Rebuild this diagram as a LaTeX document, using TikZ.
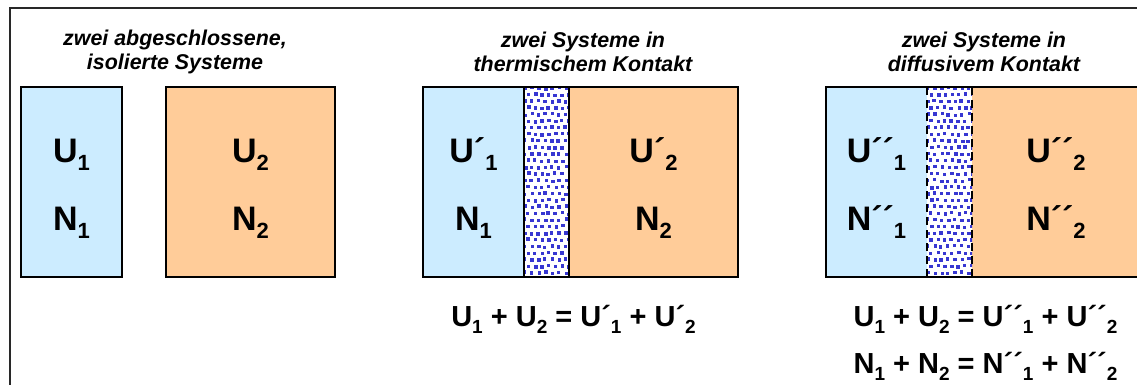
\documentclass[tikz,border=0pt]{standalone}
\usepackage{fontspec}
\setmainfont{Liberation Sans}
\definecolor{boxblue}{RGB}{204,236,255}
\definecolor{boxorange}{RGB}{255,204,153}
\definecolor{dotblue}{RGB}{55,55,210}
\definecolor{framegray}{RGB}{40,40,40}
\newcommand\bigsub[1]{\raisebox{-8pt}{\fontsize{22}{22}\selectfont #1}}
\newcommand\eqsub[1]{\raisebox{-7pt}{\fontsize{19}{19}\selectfont #1}}
\newcommand\sepdots[2]{%
  \begin{scope}
    \clip (#1,87) rectangle (#2,277);
    \fill[white] (#1,87) rectangle (#2,277);
    \foreach \j in {0,...,30}{
      \foreach \i in {0,...,7}{
        \pgfmathsetmacro\xx{#1+1+\i*6.8+mod(\j,2)*3.4+rand*0.9}
        \pgfmathsetmacro\yy{88+\j*6.6+rand*0.9}
        \fill[dotblue] (\xx-1.7,\yy-1.7) rectangle ++(3.4,3.4);
      }}
  \end{scope}}
\tikzset{
  boxline/.style={draw=black,line width=2.6pt},
  sepline/.style={black,line width=2.6pt},
  sepdash/.style={black,line width=2.6pt,dash pattern=on 8pt off 5pt},
  title/.style={align=center,inner sep=0pt,font=\fontsize{21.4}{24}\selectfont\bfseries\itshape},
  biglbl/.style={anchor=base,inner sep=0pt,font=\fontsize{34}{34}\selectfont\bfseries},
  eqlbl/.style={anchor=base,inner sep=0pt,font=\fontsize{29}{29}\selectfont\bfseries},
}
\begin{document}
\begin{tikzpicture}[x=1pt,y=-1pt]
\useasboundingbox (0,0) rectangle (1137,385);
\clip (0,0) rectangle (1137,385);
\pgfmathsetseed{7}
% frame
\draw[framegray,line width=2pt] (10,400) -- (10,8.5) -- (1150,8.5);
% titles
\node[title] (t1) at (175,52) {zwei abgeschlossene,\\isolierte Systeme};
\node[title] (t2) at (583,52) {zwei Systeme in\\thermischem Kontakt};
\node[title] (t3) at (984,52) {zwei Systeme in\\diffusivem Kontakt};
% panel 1
\fill[boxblue] (21,87) rectangle (122,277);
\draw[boxline] (21,87) rectangle (122,277);
\fill[boxorange] (166,87) rectangle (335,277);
\draw[boxline] (166,87) rectangle (335,277);
\node[biglbl] (u1) at (71.5,162) {U\bigsub{1}};
\node[biglbl] (n1) at (71.5,230) {N\bigsub{1}};
\node[biglbl] (u2) at (250.5,162) {U\bigsub{2}};
\node[biglbl] (n2) at (250.5,230) {N\bigsub{2}};
% panel 2
\fill[boxblue] (423,87) rectangle (524,277);
\fill[boxorange] (569,87) rectangle (738,277);
\sepdots{524}{569}
\draw[boxline] (423,87) rectangle (738,277);
\draw[sepline] (524,87) -- (524,277);
\draw[sepline] (569,87) -- (569,277);
\node[biglbl] (u1p) at (473.5,162) {U´\bigsub{1}};
\node[biglbl] (n1p) at (473.5,230) {N\bigsub{1}};
\node[biglbl] (u2p) at (653.5,162) {U´\bigsub{2}};
\node[biglbl] (n2p) at (653.5,230) {N\bigsub{2}};
\node[eqlbl] (eq2) at (573.5,326) {U\eqsub{1} + U\eqsub{2} = U´\eqsub{1} + U´\eqsub{2}};
% panel 3
\fill[boxblue] (826,87) rectangle (927,277);
\fill[boxorange] (972,87) rectangle (1150,277);
\sepdots{927}{972}
\draw[boxline] (826,87) rectangle (1150,277);
\draw[sepdash] (927,87) -- (927,277);
\draw[sepdash] (972,87) -- (972,277);
\node[biglbl] (u1pp) at (876.5,162) {U´´\bigsub{1}};
\node[biglbl] (n1pp) at (876.5,230) {N´´\bigsub{1}};
\node[biglbl] (u2pp) at (1056,162) {U´´\bigsub{2}};
\node[biglbl] (n2pp) at (1056,230) {N´´\bigsub{2}};
\node[eqlbl] (eq3a) at (985.5,326) {U\eqsub{1} + U\eqsub{2} = U´´\eqsub{1} + U´´\eqsub{2}};
\node[eqlbl] (eq3b) at (985.5,373) {N\eqsub{1} + N\eqsub{2} = N´´\eqsub{1} + N´´\eqsub{2}};
\end{tikzpicture}
\end{document}
